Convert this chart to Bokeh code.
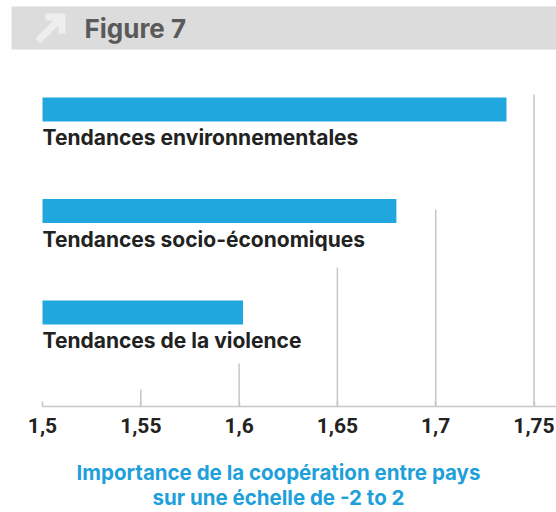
from bokeh.plotting import figure
from bokeh.models import Range1d, FixedTicker, ColumnDataSource
from bokeh.core.properties import value
from bokeh.embed import file_html
from bokeh.resources import INLINE

# ---- data ----
categories = ["Tendances environnementales", "Tendances socio-économiques", "Tendances de la violence"]
values = [1.736, 1.680, 1.602]
tick_values = [1.5, 1.55, 1.6, 1.65, 1.7, 1.75]
tick_labels = ["1,5", "1,55", "1,6", "1,65", "1,7", "1,75"]
header_text = "Figure 7"
axis_title_lines = ["Importance de la coopération entre pays", "sur une échelle de -2 to 2"]

# ---- layout constants ----
W = 556
FRAME_H = 406
PX_PER_UNIT = 1966.0
BASE = 1.5
BASE_PX = 42
x_start = BASE - BASE_PX / PX_PER_UNIT
x_end = x_start + W / PX_PER_UNIT
TXT_SHIFT = -10

BLUE = "#20a7de"
TITLE_BLUE = "#1ea0da"
GRID = "#c6c6c6"
FONT = "Roboto"
LFONT = "Inter"

p = figure(width=W, frame_width=W, frame_height=FRAME_H,
           x_range=Range1d(x_start, x_end), y_range=Range1d(FRAME_H, 0),
           output_backend="svg", toolbar_location=None, y_axis_location=None,
           min_border=0, min_border_left=0, min_border_right=0, min_border_top=0,
           min_border_bottom=0,
           outline_line_color=None, background_fill_color="white", border_fill_color="white")
p.extra_x_ranges = {"px": Range1d(0, W)}
p.xgrid.visible = False
p.ygrid.visible = False

# header band
p.quad(left=11, right=W, top=6, bottom=49, x_range_name="px", fill_color="#dcdcdd", line_color=None)
arrow_x = [45, 65, 65, 58, 58, 40, 35, 53, 45]
arrow_y = [13, 13, 33, 33, 25, 43, 38, 20, 20]
p.patch(x=arrow_x, y=arrow_y, x_range_name="px", fill_color="#eeeeee", line_color=None)
p.text(x=[84], y=[38 + TXT_SHIFT], text=[header_text], x_range_name="px", text_font=value(LFONT),
       text_font_style="bold", text_font_size="26px", text_color="#5a5a5a",
       text_baseline="alphabetic", text_align="left")

# staircase gridlines
grid_ticks = tick_values[1:]
grid_tops = [389, 363, 267, 209, 94]
p.segment(x0=grid_ticks, y0=grid_tops, x1=grid_ticks, y1=[FRAME_H] * len(grid_ticks),
          line_color=GRID, line_width=1.5)

# bars
bar_y = [109 + 101.5 * i for i in range(len(categories))]
src = ColumnDataSource(dict(cat=categories, val=values, y=bar_y,
                            ly=[y + 38 + TXT_SHIFT for y in bar_y], base=[BASE] * len(categories)))
p.hbar(y="y", left="base", right="val", height=24, source=src, fill_color=BLUE, line_color=None)
p.text(x="base", y="ly", text="cat", source=src, text_font=value(LFONT), text_font_style="bold",
       text_font_size="21px", text_color="#222222", text_baseline="alphabetic", text_align="left")

# x axis
ax = p.xaxis[0]
ax.ticker = FixedTicker(ticks=tick_values)
ax.major_label_overrides = {v: l for v, l in zip(tick_values, tick_labels)}
ax.bounds = (BASE, x_end)
ax.axis_line_color = GRID
ax.axis_line_width = 1.5
ax.major_tick_line_color = GRID
ax.major_tick_line_width = 1.5
ax.major_tick_in = 5
ax.major_tick_out = 0
ax.minor_tick_line_color = None
ax.major_label_standoff = 11
ax.major_label_text_font = FONT
ax.major_label_text_font_style = "bold"
ax.major_label_text_font_size = "21px"
ax.major_label_text_color = "#222222"

ax.axis_label = "\n".join(axis_title_lines)
ax.axis_label_standoff = 24
ax.axis_label_text_font = LFONT
ax.axis_label_text_font_style = "bold"
ax.axis_label_text_font_size = "20.5px"
ax.axis_label_text_color = TITLE_BLUE
ax.axis_label_text_align = "center"
ax.axis_label_text_line_height = 1.0

open("out.html", "w").write(file_html(p, INLINE))
